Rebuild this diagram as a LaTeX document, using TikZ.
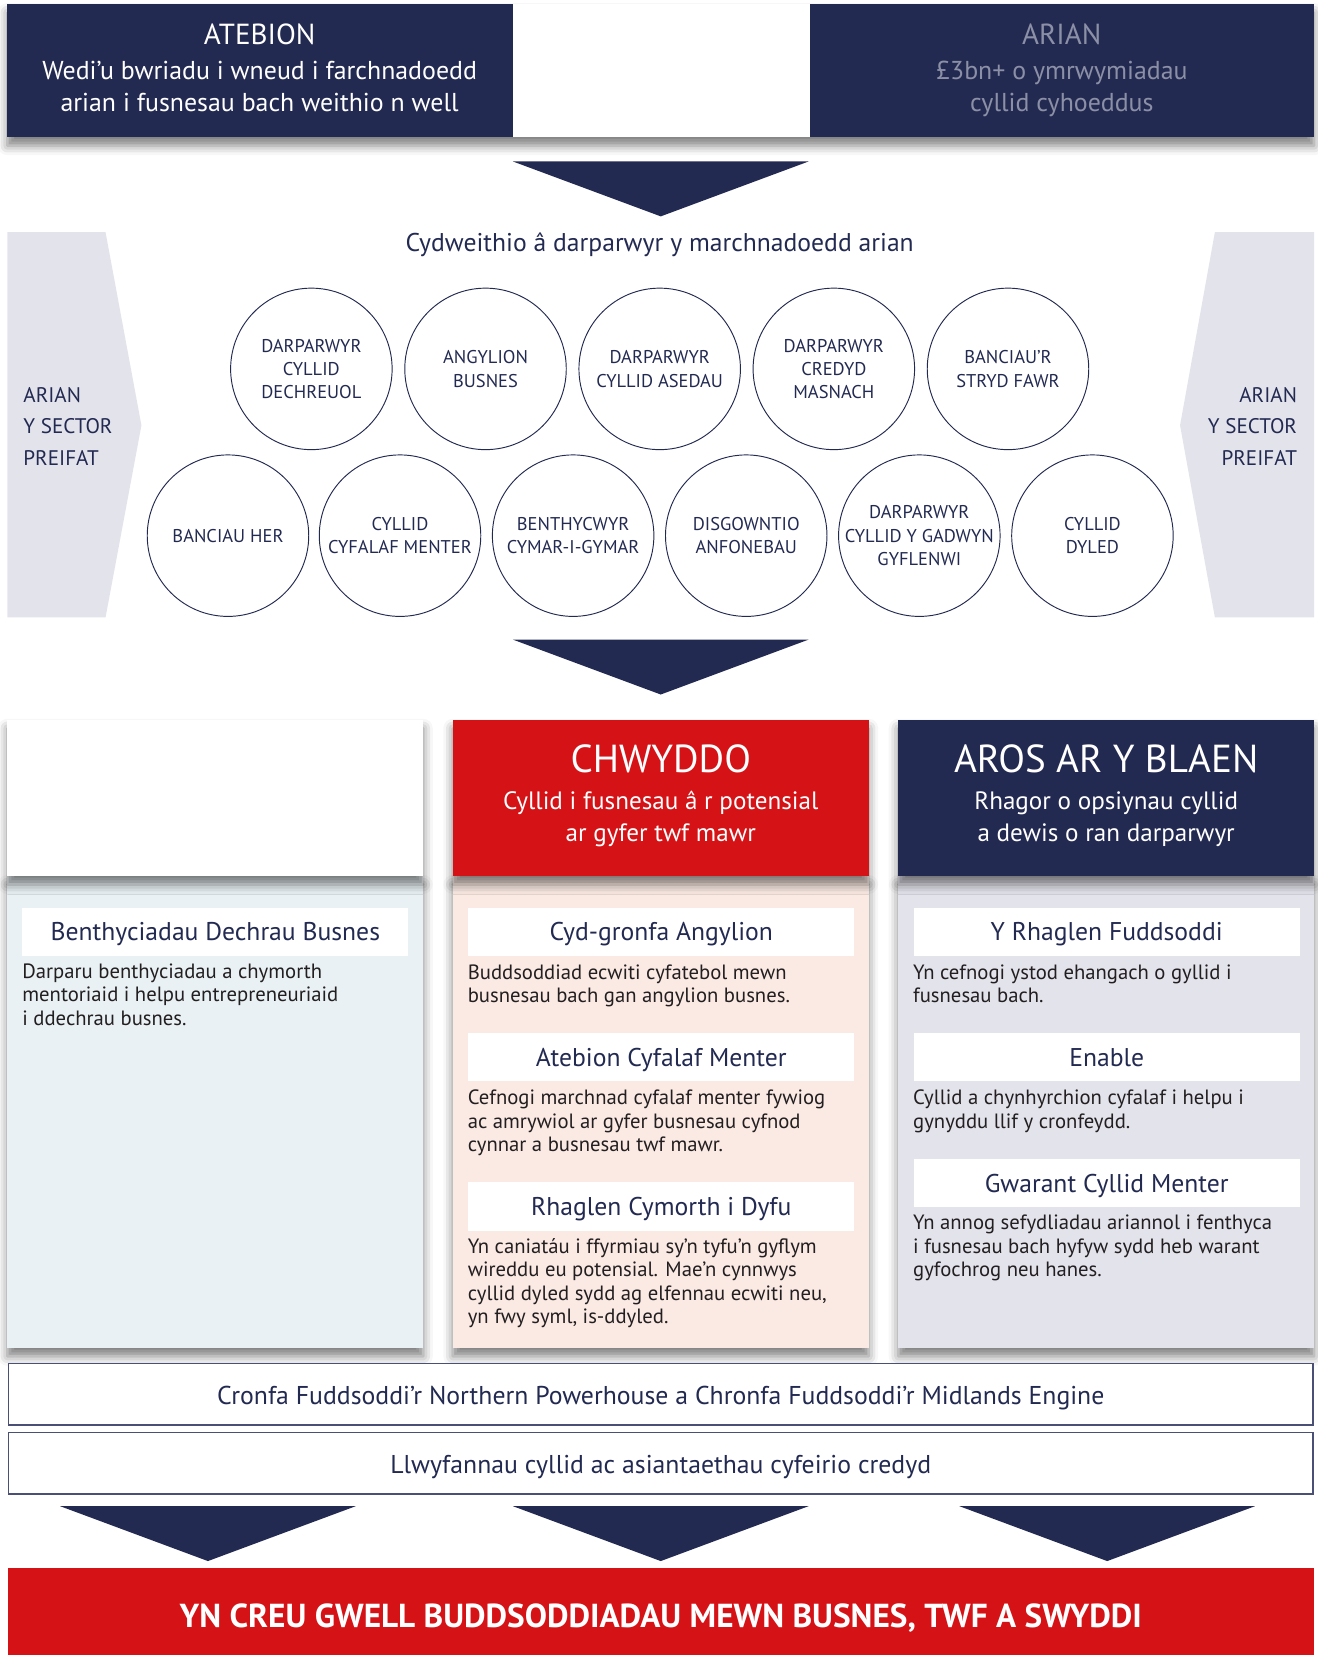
\documentclass[tikz,border=0pt]{standalone}
\usepackage{fontspec}
\setmainfont{PT Sans}
\usetikzlibrary{shadows.blur}

\definecolor{navy}{HTML}{232A52}
\definecolor{brandred}{HTML}{D51317}
\definecolor{mutedgrey}{HTML}{8C90A6}
\definecolor{lavender}{HTML}{E3E3EC}
\definecolor{paleblue}{HTML}{E9F1F4}
\definecolor{palepink}{HTML}{FBEAE4}
\definecolor{ink}{HTML}{231F20}
\definecolor{stripline}{HTML}{4A5075}

\newcommand{\setfs}[2]{\fontsize{#1}{#2}\selectfont}

\begin{document}
\begin{tikzpicture}[x=1pt,y=-1pt,
    cast/.style={blur shadow={shadow xshift=0pt,shadow yshift=-8pt,shadow blur radius=9pt,shadow opacity=50}},
    pointer/.style={fill=navy},
    provider/.style={circle,draw=navy,line width=0.9pt,minimum size=153pt,inner sep=0pt,
        align=center,text=navy,font=\setfs{17.5}{22.1}},
    headtitle/.style={anchor=base,text=white,font=\setfs{27.5}{30}},
    headsub/.style={anchor=base,align=center,text=white,font=\setfs{24.5}{30}},
    subbox/.style={fill=white,minimum width=366pt,minimum height=46pt,inner sep=0pt,
        text height=17pt,text depth=0pt,text=navy,font=\setfs{24.3}{28}},
    bodytext/.style={anchor=base west,align=left,inner sep=0pt,text=ink,font=\setfs{19.6}{22.2}},
    stripbox/.style={draw=stripline,line width=1.2pt,fill=white,minimum width=1236pt,minimum height=58pt,
        inner sep=0pt,text height=19pt,text depth=0pt,text=navy,font=\setfs{24.4}{26}}]

  \useasboundingbox (0,0) rectangle (1248,1568);

  % top band
  \fill[white,cast] (7,4) rectangle (1245,130);
  \fill[navy] (7,4) rectangle (486,130);
  \fill[navy] (767,4) rectangle (1245,130);
  \node[headtitle] (Atebion) at (246,42) {ATEBION};
  \node[headsub] (AtebionSub) at (246,105.5) {Wedi’u bwriadu i wneud i farchnadoedd\\arian i fusnesau bach weithio n well};
  \node[headtitle,text=mutedgrey] (Arian) at (1006,42) {ARIAN};
  \node[headsub,text=mutedgrey] (ArianSub) at (1006,105.5) {£3bn+ o ymrwymiadau\\cyllid cyhoeddus};

  \fill[pointer] (486,153) -- (766,153) -- (626,205) -- cycle;

  % private sector chevrons
  \fill[lavender] (7,220) -- (100,220) -- (134,403) -- (100,585) -- (7,585) -- cycle;
  \fill[lavender] (1245,220) -- (1151,220) -- (1118,403) -- (1151,585) -- (1245,585) -- cycle;
  \node[anchor=base west,align=left,inner sep=0pt,text=navy,font=\setfs{20}{29.8}] (SectorLeft) at (22,440.6) {ARIAN\\Y SECTOR\\PREIFAT};
  \node[anchor=base east,align=right,inner sep=0pt,text=navy,font=\setfs{20}{29.8}] (SectorRight) at (1229,440.6) {ARIAN\\Y SECTOR\\PREIFAT};

  \node[anchor=base,text=navy,font=\setfs{24.3}{28}] (Cydweithio) at (625,238.5) {Cydweithio â darparwyr y marchnadoedd arian};

  % providers
  \node[provider] (Dechreuol) at (295,349.5) {DARPARWYR\\CYLLID\\DECHREUOL};
  \node[provider] (Angylion) at (460,349.5) {ANGYLION\\BUSNES};
  \node[provider] (Asedau) at (625,349.5) {DARPARWYR\\CYLLID ASEDAU};
  \node[provider] (Masnach) at (790,349.5) {DARPARWYR\\CREDYD\\MASNACH};
  \node[provider] (StrydFawr) at (955,349.5) {BANCIAU’R\\STRYD FAWR};
  \node[provider] (Her) at (216,507.5) {BANCIAU HER};
  \node[provider] (CyfalafMenter) at (379,507.5) {CYLLID\\CYFALAF MENTER};
  \node[provider] (CymarIGymar) at (543,507.5) {BENTHYCWYR\\CYMAR-I-GYMAR};
  \node[provider] (Anfonebau) at (707,507.5) {DISGOWNTIO\\ANFONEBAU};
  \node[provider] (Gadwyn) at (871,507.5) {DARPARWYR\\CYLLID Y GADWYN\\GYFLENWI};
  \node[provider] (Dyled) at (1035,507.5) {CYLLID\\DYLED};

  \fill[pointer] (486,606) -- (766,606) -- (626,658) -- cycle;

  % columns
  \fill[paleblue,cast] (7,830) rectangle (401,1277);
  \fill[palepink,cast] (429,830) rectangle (823,1277);
  \fill[lavender,cast] (851,830) rectangle (1245,1277);
  \fill[white,cast] (7,682) rectangle (401,830);
  \fill[brandred,cast] (429,682) rectangle (823,830);
  \fill[navy,cast] (851,682) rectangle (1245,830);

  \node[headtitle,font=\setfs{37}{40}] (Chwyddo) at (626,731.5) {CHWYDDO};
  \node[headsub,font=\setfs{23.8}{30}] (ChwyddoSub) at (626,797) {Cyllid i fusnesau â r potensial\\ar gyfer twf mawr};
  \node[headtitle,font=\setfs{37}{40}] (Aros) at (1048,731.5) {AROS AR Y BLAEN};
  \node[headsub,font=\setfs{23.8}{30}] (ArosSub) at (1048,797) {Rhagor o opsiynau cyllid\\a dewis o ran darparwyr};

  \node[subbox] (Dechrau) at (204,883) {Benthyciadau Dechrau Busnes};
  \node[bodytext] (DechrauText) at (21,971.4) {Darparu benthyciadau a chymorth\\mentoriaid i helpu entrepreneuriaid\\i ddechrau busnes.};

  \node[subbox] (CydGronfa) at (626.5,883) {Cyd-gronfa Angylion};
  \node[bodytext] (CydGronfaText) at (443,950.2) {Buddsoddiad ecwiti cyfatebol mewn\\busnesau bach gan angylion busnes.};
  \node[subbox] (CyfalafAtebion) at (626.5,1001.5) {Atebion Cyfalaf Menter};
  \node[bodytext] (CyfalafAtebionText) at (443,1091) {Cefnogi marchnad cyfalaf menter fywiog\\ac amrywiol ar gyfer busnesau cyfnod\\cynnar a busnesau twf mawr.};
  \node[subbox] (Cymorth) at (626.5,1143) {Rhaglen Cymorth i Dyfu};
  \node[bodytext] (CymorthText) at (443,1253.9) {Yn caniatáu i ffyrmiau sy’n tyfu’n gyflym\\wireddu eu potensial. Mae’n cynnwys\\cyllid dyled sydd ag elfennau ecwiti neu,\\yn fwy syml, is-ddyled.};

  \node[subbox] (Fuddsoddi) at (1048.5,883) {Y Rhaglen Fuddsoddi};
  \node[bodytext] (FuddsoddiText) at (865,950.2) {Yn cefnogi ystod ehangach o gyllid i\\fusnesau bach.};
  \node[subbox] (Enable) at (1048.5,1001.5) {Enable};
  \node[bodytext] (EnableText) at (865,1068.8) {Cyllid a chynhyrchion cyfalaf i helpu i\\gynyddu llif y cronfeydd.};
  \node[subbox] (Gwarant) at (1048.5,1121) {Gwarant Cyllid Menter};
  \node[bodytext] (GwarantText) at (865,1209.6) {Yn annog sefydliadau ariannol i fenthyca\\i fusnesau bach hyfyw sydd heb warant\\gyfochrog neu hanes.};

  % strips
  \node[stripbox] (Powerhouse) at (626,1321) {Cronfa Fuddsoddi’r Northern Powerhouse a Chronfa Fuddsoddi’r Midlands Engine};
  \node[stripbox] (Llwyfannau) at (626,1386.5) {Llwyfannau cyllid ac asiantaethau cyfeirio credyd};

  \fill[pointer] (57,1427) -- (337,1427) -- (197,1479) -- cycle;
  \fill[pointer] (486,1427) -- (766,1427) -- (626,1479) -- cycle;
  \fill[pointer] (909,1427) -- (1189,1427) -- (1049,1479) -- cycle;

  \fill[brandred] (8,1486) rectangle (1245,1568);
  \node[anchor=base,text=white,font=\bfseries\setfs{31.5}{34}] (Outcome) at (626,1541.7) {YN CREU GWELL BUDDSODDIADAU MEWN BUSNES, TWF A SWYDDI};
\end{tikzpicture}
\end{document}
